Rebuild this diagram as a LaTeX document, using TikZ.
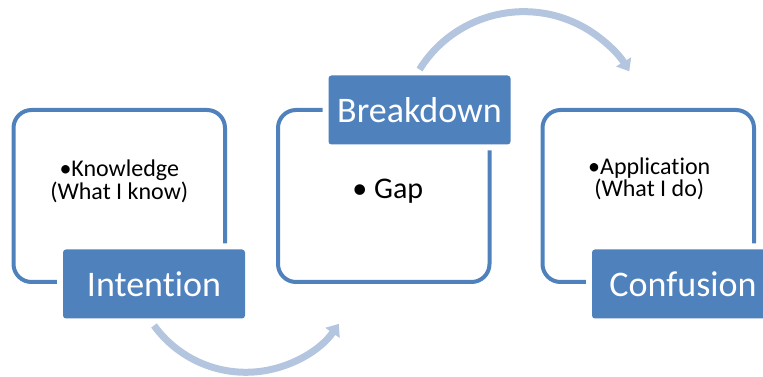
\documentclass[tikz,border=0pt]{standalone}
\usepackage{fontspec}
\setmainfont{Carlito}[Ligatures={NoCommon,NoContextual}]
\usetikzlibrary{arrows.meta, positioning}
\definecolor{stageblue}{RGB}{79,129,189}
\definecolor{cycleblue}{RGB}{180,197,223}

\begin{document}
\begin{tikzpicture}[x=1pt,y=1pt,
  % outlined stage frames
  stageframe/.style={draw=stageblue,line width=4pt,rounded corners=18pt,minimum width=211.5pt,minimum height=172pt},
  % filled stage labels, a white rim cuts them out of the frame
  stagetag/.style={fill=stageblue,text=white,rounded corners=3pt,minimum width=182pt,minimum height=69pt,inner sep=0pt,outer sep=0pt,
    font=\fontsize{36}{40}\selectfont,preaction={draw=white,line width=12pt}},
  % bullet text inside the frames
  stagenote/.style={align=center,font=\fontsize{24}{20}\selectfont},
  % curved arrows between the stages
  cyclearr/.style={cycleblue,line width=7pt,-{Triangle[length=11pt,width=17pt]}}
]
\useasboundingbox (0,0) rectangle (763,377);

% Frames
\node[stageframe] (knowframe) at (119.25,181) {};
\node[stageframe,right=49pt of knowframe] (gapframe) {};
\node[stageframe,right=49pt of gapframe] (doframe) {};

% Bullet text
\node[stagenote] (knowtext) at ([yshift=15pt]knowframe.center) {•Knowledge\\(What I know)};
\node[stagenote,font=\fontsize{30}{30}\selectfont] (gaptext) at ([xshift=4pt,yshift=5pt]gapframe.center) {• Gap};
\node[stagenote] (dotext) at ([xshift=1pt,yshift=17pt]doframe.center) {•Application\\(What I do)};

% Labels on the frame corners
\node[stagetag,anchor=east] (intention) at ([xshift=18pt]knowframe.south east) {Intention};
\node[stagetag,anchor=east] (breakdown) at ([xshift=19pt,yshift=-2pt]gapframe.north east) {Breakdown};
\node[stagetag,anchor=east] (confusion) at ([xshift=18pt]doframe.south east) {Confusion};

% Arrows
\draw[cyclearr] ([yshift=-7pt]intention.south) arc[start angle=216,end angle=325,radius=113.5pt];
\draw[cyclearr] ([yshift=6pt]breakdown.north) arc[start angle=148,end angle=31,radius=123pt];
\end{tikzpicture}
\end{document}
